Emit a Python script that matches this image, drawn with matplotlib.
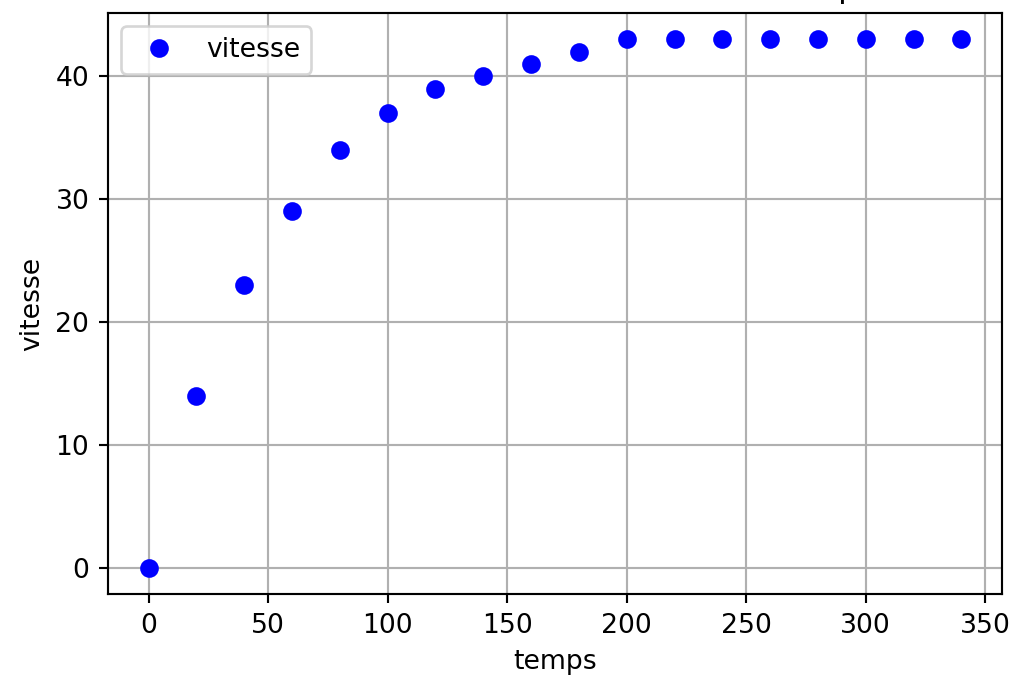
import matplotlib
matplotlib.use("Agg")
import matplotlib.pyplot as plt

temps = [0, 20, 40, 60, 80, 100, 120, 140, 160, 180, 200, 220, 240, 260, 280, 300, 320, 340]
vitesse = [0, 14, 23, 29, 34, 37, 39, 40, 41, 42, 43, 43, 43, 43, 43, 43, 43, 43]

dpi = 192
fig = plt.figure(figsize=(1011 / dpi, 682 / dpi), dpi=dpi)
# axes placed so that the title sits mostly above the top edge, as in the cropped original
ax = fig.add_axes([108 / 1011, 88 / 682, 894 / 1011, 581 / 682])

ax.plot(temps, vitesse, 'bo', label='vitesse')
ax.set_title('Courbe de vitesse en fonction du temps')
ax.set_xlabel('temps')
ax.set_ylabel('vitesse')
ax.legend(loc='upper left')
ax.grid(True)

fig.savefig('out.png', dpi=dpi)
